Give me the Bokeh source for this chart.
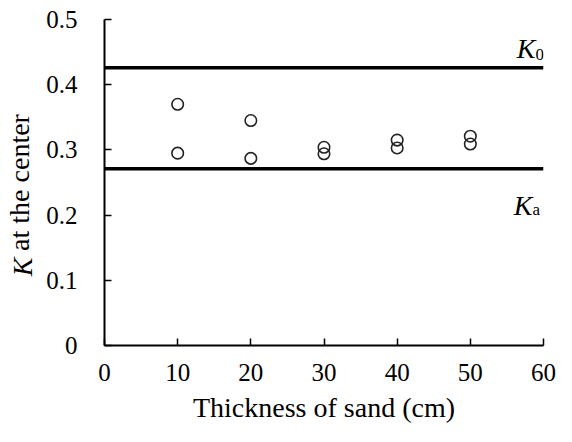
from bokeh.plotting import figure
from bokeh.models import Range1d, FixedTicker, Span, Label
from bokeh.embed import file_html
from bokeh.resources import INLINE
import math

# ---- data ----
thickness = [10, 20, 30, 40, 50]
k_high = [0.370, 0.345, 0.304, 0.315, 0.321]
k_low = [0.295, 0.287, 0.294, 0.303, 0.309]
K0 = 0.426
Ka = 0.271

x_ticks = [0, 10, 20, 30, 40, 50, 60]
y_ticks = [0, 0.1, 0.2, 0.3, 0.4, 0.5]
y_tick_labels = ["0", "0.1", "0.2", "0.3", "0.4", "0.5"]

x_title = "Thickness of sand (cm)"
y_title_italic = "K"
y_title_rest = "at the center"

FONT = "Liberation Serif"

p = figure(width=556, height=426, output_backend="svg", toolbar_location=None,
           x_range=Range1d(0, 60), y_range=Range1d(0, 0.5),
           min_border_left=104, min_border_right=13, min_border_top=18,
           min_border_bottom=81)
p.xgrid.visible = False
p.ygrid.visible = False
p.outline_line_color = None
p.background_fill_color = "white"
p.border_fill_color = "white"

for ax in (p.xaxis, p.yaxis):
    ax.axis_line_width = 2
    ax.axis_line_color = "black"
    ax.major_tick_in = 7
    ax.major_tick_out = 0
    ax.major_tick_line_width = 1.5
    ax.major_tick_line_color = "black"
    ax.minor_tick_line_color = None
    ax.major_label_text_font = FONT
    ax.major_label_text_font_size = "25px"
    ax.major_label_text_color = "black"
    ax.axis_label_text_font = FONT
    ax.axis_label_text_font_size = "28px"
    ax.axis_label_text_font_style = "normal"
    ax.axis_label_text_color = "black"

p.xaxis.ticker = FixedTicker(ticks=x_ticks)
p.yaxis.ticker = FixedTicker(ticks=y_ticks)
p.yaxis.major_label_overrides = {t: l for t, l in zip(y_ticks, y_tick_labels)}
p.xaxis.major_label_standoff = 18
p.yaxis.major_label_standoff = 27

p.xaxis.axis_label = x_title
p.xaxis.axis_label_standoff = 8

# y title: normal part as axis label, italic K as a label placed just below it
p.yaxis.axis_label = y_title_rest
p.yaxis.axis_label_standoff = 8

# reference lines
for loc in (K0, Ka):
    p.add_layout(Span(location=loc, dimension="width", line_color="black",
                      line_width=3.5))

# data points
for ys in (k_high, k_low):
    p.scatter(thickness, ys, marker="circle", size=11.5, fill_color=None,
              line_color="#222222", line_width=1.6)

# K0 / Ka labels
p.add_layout(Label(x=60, y=K0, x_offset=-8, y_offset=19, text="K",
                   text_font=FONT, text_font_style="italic",
                   text_font_size="28px", text_align="right",
                   text_baseline="alphabetic", text_color="black"))
p.add_layout(Label(x=60, y=K0, x_offset=-8, y_offset=13, text="0",
                   text_font=FONT, text_font_size="17px", text_align="left",
                   text_baseline="alphabetic", text_color="black"))
p.add_layout(Label(x=60, y=Ka, x_offset=-11, y_offset=-37, text="K",
                   text_font=FONT, text_font_style="italic",
                   text_font_size="28px", text_align="right",
                   text_baseline="alphabetic", text_color="black"))
p.add_layout(Label(x=60, y=Ka, x_offset=-11, y_offset=-41, text="a",
                   text_font=FONT, text_font_size="17px", text_align="left",
                   text_baseline="alphabetic", text_color="black"))

# italic K of the y title (in a side panel so that it is not clipped)
y_mid = (p.y_range.start + p.y_range.end) / 2
p.add_layout(Label(x=p.x_range.start, y=y_mid, x_offset=-82, y_offset=-75,
                   text=y_title_italic, angle=math.pi / 2, text_font=FONT,
                   text_font_style="italic", text_font_size="28px",
                   text_align="right", text_baseline="middle",
                   text_color="black"), "above")

open("out.html", "w").write(file_html(p, INLINE))
